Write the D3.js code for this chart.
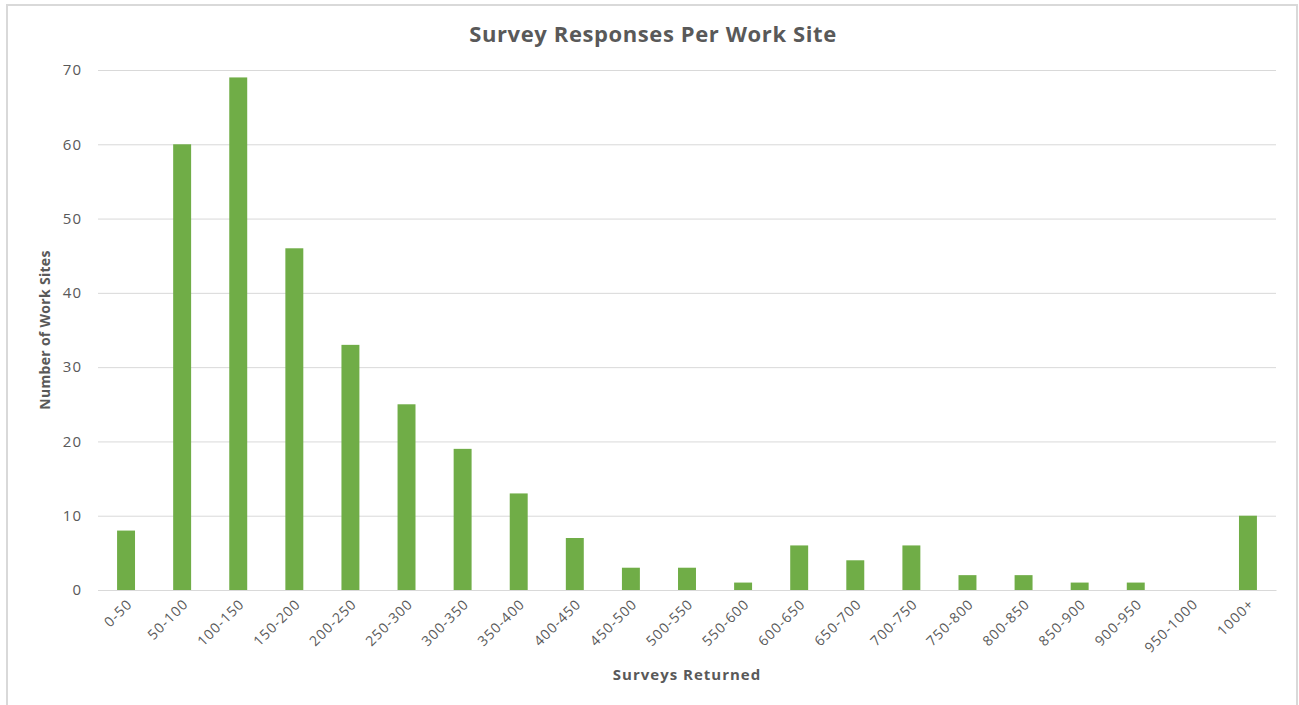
<!DOCTYPE html>
<html>
<head>
<meta charset="utf-8">
<script src="https://cdn.jsdelivr.net/npm/d3@7"></script>
<style>
  html, body { margin: 0; padding: 0; background: #fff; }
  svg { display: block; }
  text { font-family: "Open Sans", sans-serif; }
</style>
</head>
<body>
<svg id="chart" width="1299" height="705"></svg>
<script>
// Surveys returned per site, binned
const categories = ["0-50","50-100","100-150","150-200","200-250","250-300","300-350","350-400",
  "400-450","450-500","500-550","550-600","600-650","650-700","700-750","750-800","800-850",
  "850-900","900-950","950-1000","1000+"];
const siteCounts = [8, 60, 69, 46, 33, 25, 19, 13, 7, 3, 3, 1, 6, 4, 6, 2, 2, 1, 1, 0, 10];
const yTicks = [0, 10, 20, 30, 40, 50, 60, 70];

const svg = d3.select("#chart");
const plot = { left: 98, right: 1276, top: 70, bottom: 590 };
const labelFont = "'Open Sans', sans-serif";

// outer frame
svg.append("rect")
  .attr("x", 7).attr("y", 5)
  .attr("width", 1290).attr("height", 720)
  .attr("fill", "#fff").attr("stroke", "#d9d9d9").attr("stroke-width", 2);

const x = d3.scaleBand()
  .domain(categories)
  .range([plot.left, plot.right])
  .paddingInner(0.68)
  .paddingOuter(0.34);

const y = d3.scaleLinear().domain([0, 70]).range([plot.bottom, plot.top]);

// horizontal gridlines + value labels
const yAxis = d3.axisLeft(y).tickValues(yTicks).tickSize(-(plot.right - plot.left)).tickPadding(16);
const gy = svg.append("g").attr("transform", `translate(${plot.left},0)`).call(yAxis);
gy.select(".domain").remove();
gy.selectAll(".tick line").attr("stroke", "#d9d9d9").attr("stroke-width", 1);
gy.selectAll(".tick text")
  .attr("fill", "#595959")
  .style("font-size", "15px")
  .style("letter-spacing", "1px")
  .style("font-family", labelFont);

// bars
svg.append("g").selectAll("rect")
  .data(siteCounts)
  .join("rect")
  .attr("x", (d, i) => x(categories[i]))
  .attr("y", d => y(d))
  .attr("width", x.bandwidth())
  .attr("height", d => y(0) - y(d))
  .attr("fill", "#70ad47");

// category axis
const xAxis = d3.axisBottom(x).tickSize(0).tickPadding(0);
const gx = svg.append("g").attr("transform", `translate(0,${plot.bottom})`).call(xAxis);
gx.select(".domain").attr("stroke", "#d9d9d9");
gx.selectAll(".tick text")
  .attr("fill", "#595959")
  .style("font-size", "14px")
  .style("letter-spacing", "1px")
  .style("font-family", labelFont)
  .attr("text-anchor", "end")
  .attr("dy", "0")
  .attr("transform", "translate(7,15) rotate(-45)");

// titles
svg.append("text")
  .attr("x", 653).attr("y", 42)
  .attr("text-anchor", "middle")
  .attr("fill", "#595959")
  .style("font-size", "22px").style("font-weight", "bold")
  .style("letter-spacing", "0.6px")
  .text("Survey Responses Per Work Site");

svg.append("text")
  .attr("x", 687).attr("y", 680)
  .attr("text-anchor", "middle")
  .attr("fill", "#595959")
  .style("font-size", "15px").style("font-weight", "bold")
  .style("letter-spacing", "1px")
  .text("Surveys Returned");

svg.append("text")
  .attr("transform", "translate(50,330) rotate(-90)")
  .attr("text-anchor", "middle")
  .attr("fill", "#595959")
  .style("font-size", "14px").style("font-weight", "bold")
  .style("letter-spacing", "0.3px")
  .text("Number of Work Sites");
</script>
</body>
</html>
